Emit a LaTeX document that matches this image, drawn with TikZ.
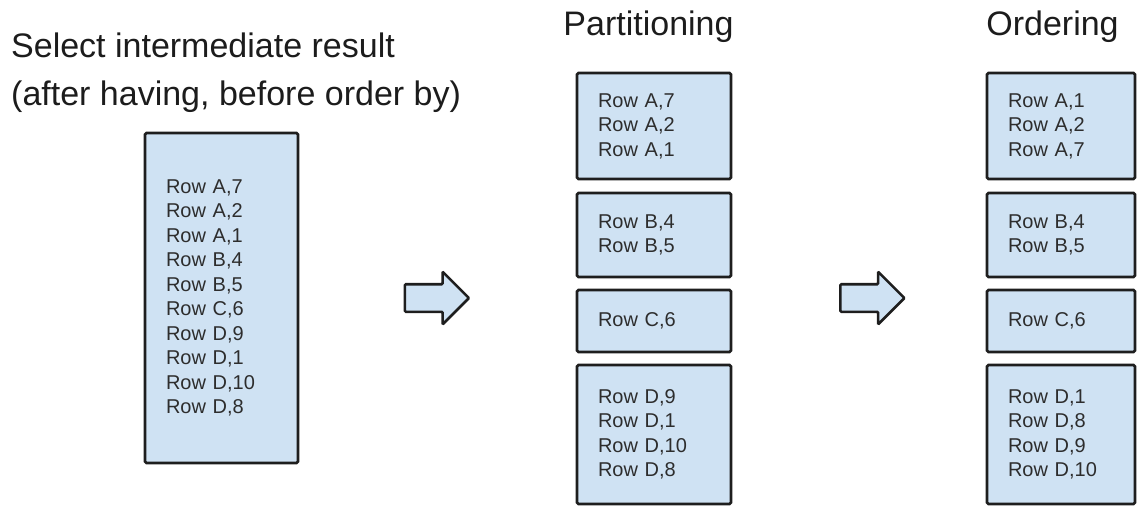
\documentclass[tikz,border=0pt]{standalone}
\usepackage{fontspec}
\setmainfont{Liberation Sans}
\usetikzlibrary{shapes}
\usetikzlibrary{shapes.arrows}

\definecolor{boxfill}{RGB}{207,226,243}
\definecolor{boxline}{RGB}{30,30,30}
\definecolor{rowtext}{RGB}{45,45,45}
\definecolor{titletext}{RGB}{28,28,28}

\tikzset{
  rowbox/.style={draw=boxline,line width=2.6pt,fill=boxfill,rounded corners=1.5pt,
    align=left,inner xsep=21pt,inner ysep=0pt,text=rowtext,
    font=\fontsize{20}{24.5}\selectfont},
  headline/.style={inner sep=0pt,text=titletext,align=left,
    font=\fontsize{34}{48}\selectfont},
  blockarrow/.style={single arrow,draw=boxline,fill=boxfill,line width=2.6pt,
    inner xsep=0pt,inner ysep=12.5pt,single arrow head extend=12.5pt,
    minimum height=64pt,rounded corners=1pt}
}

\begin{document}
\begin{tikzpicture}[x=1pt,y=-1pt]
\useasboundingbox (0,0) rectangle (1139,507);
% titres
\node[headline,anchor=north west] (selTitle) at (11,33) {Select intermediate result\\(after having, before order by)};
\node[headline,anchor=base] (partTitle) at (648.5,35) {Partitioning};
\node[headline,anchor=base] (ordTitle) at (1052.5,35) {Ordering};
% resultat intermediaire
\node[rowbox,minimum width=153pt,minimum height=330pt,text width=111pt] (src) at (221.5,298)
  {Row A,7\\Row A,2\\Row A,1\\Row B,4\\Row B,5\\Row C,6\\Row D,9\\Row D,1\\Row D,10\\Row D,8};
% partitions
\node[rowbox,minimum width=154pt,minimum height=106pt,text width=112pt] (partA) at (654,126) {Row A,7\\Row A,2\\Row A,1};
\node[rowbox,minimum width=154pt,minimum height=84pt,text width=112pt] (partB) at (654,235) {Row B,4\\Row B,5};
\node[rowbox,minimum width=154pt,minimum height=62pt,text width=112pt] (partC) at (654,321) {Row C,6};
\node[rowbox,minimum width=154pt,minimum height=139pt,text width=112pt] (partD) at (654,434.5) {Row D,9\\Row D,1\\Row D,10\\Row D,8};
% tri
\node[rowbox,minimum width=148pt,minimum height=106pt,text width=106pt] (ordA) at (1061,126) {Row A,1\\Row A,2\\Row A,7};
\node[rowbox,minimum width=148pt,minimum height=84pt,text width=106pt] (ordB) at (1061,235) {Row B,4\\Row B,5};
\node[rowbox,minimum width=148pt,minimum height=62pt,text width=106pt] (ordC) at (1061,321) {Row C,6};
\node[rowbox,minimum width=148pt,minimum height=139pt,text width=106pt] (ordD) at (1061,434.5) {Row D,1\\Row D,8\\Row D,9\\Row D,10};
% fleches
\node[blockarrow] (arrA) at (430,298) {};
\node[blockarrow] (arrB) at (865.5,298) {};
\end{tikzpicture}
\end{document}
